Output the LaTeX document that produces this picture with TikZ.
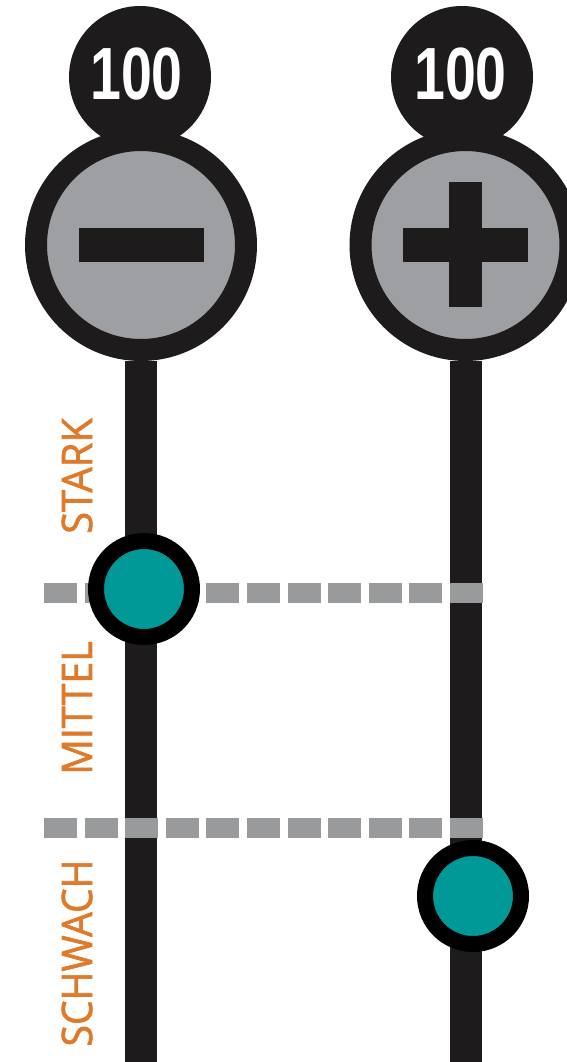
\documentclass[tikz,border=0pt]{standalone}
\usepackage{fontspec}
\setmainfont{Liberation Sans}
\newfontfamily\labelfont[FakeBold=1.6]{Open Sans}
\definecolor{ink}{RGB}{29,27,28}
\definecolor{dialgray}{RGB}{157,159,162}
\definecolor{dashgray}{RGB}{153,154,156}
\definecolor{teal}{RGB}{0,153,152}
\definecolor{lblorange}{RGB}{222,122,42}
\tikzset{
  badge/.style={circle, fill=ink, inner sep=0pt, minimum size=142pt},
  numtext/.style={text=white, inner sep=0pt, xscale=0.75,
    font=\fontsize{74}{74}\selectfont\bfseries},
  dial/.style={circle, fill=dialgray, draw=ink, line width=22pt, inner sep=0pt, minimum size=210pt},
  bar/.style={draw=ink, line width=32pt},
  signbar/.style={fill=ink},
  dashbox/.style={fill=dashgray},
  marker/.style={circle, fill=teal, draw=black, line width=16pt, inner sep=0pt, minimum size=96pt},
  level/.style={rotate=90, text=lblorange, inner sep=0pt, font=\labelfont\fontsize{42}{42}\selectfont}
}
\begin{document}
\begin{tikzpicture}[x=1pt,y=-1pt]
\useasboundingbox (0,0) rectangle (567,1062);
\clip (0,0) rectangle (567,1062);
% coordinates at the bottom of the bars
\coordinate (endL) at (141,1062);
\coordinate (endR) at (465.5,1062);
% top badges
\node[badge] (badgeL) at (140,77) {};
\node[badge] (badgeR) at (462,77) {};
\node[numtext] (numL) at (136.5,74.5) {100};
\node[numtext] (numR) at (460.5,74.5) {100};
% dials
\node[dial] (dialL) at (141,245) {};
\node[dial] (dialR) at (465.5,245) {};
% bars
\draw[bar] (dialL.south) -- (endL);
\draw[bar] (dialR.south) -- (endR);
% minus and plus
\fill[signbar] (79,228) rectangle (204,262);
\fill[signbar] (403,228) rectangle (528,262);
\fill[signbar] (449,182) rectangle (482,307);
% dashed level lines
\foreach \i in {0,...,10} {
  \fill[dashbox] ({44+40.6*\i},583) rectangle ({44+40.6*\i+33},603);
  \fill[dashbox] ({44+40.6*\i},818) rectangle ({44+40.6*\i+33},838);
}
% markers
\node[marker] (markL) at (144,589) {};
\node[marker] (markR) at (473,896) {};
% level labels
\node[level] (stark) at (77,476) {\scalebox{0.95}[1]{STARK}};
\node[level] (mittel) at (77,708) {\scalebox{0.94}[1]{MITTEL}};
\node[level] (schwach) at (77,953) {\scalebox{0.93}[1]{SCHWACH}};
\end{tikzpicture}
\end{document}
